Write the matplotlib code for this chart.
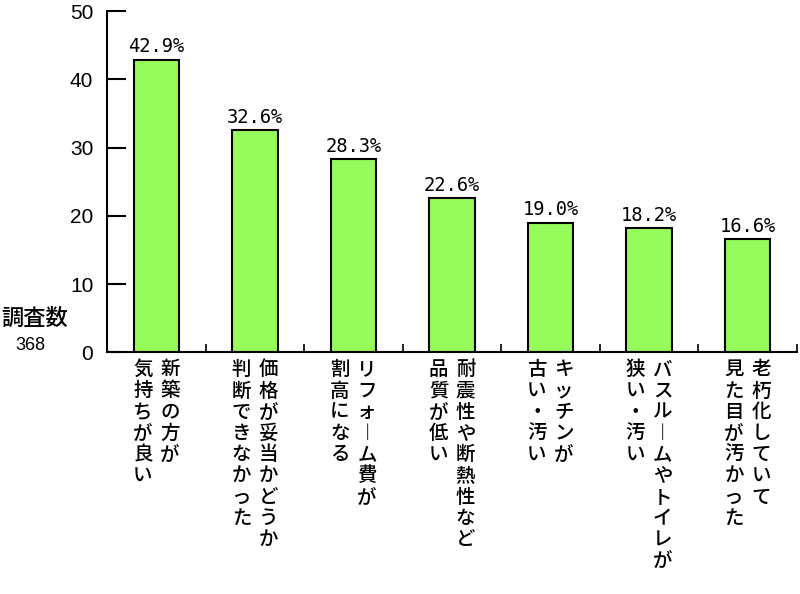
import matplotlib
matplotlib.use('Agg')
import matplotlib.pyplot as plt
import matplotlib.transforms as mtransforms

plt.rcParams['font.family'] = ['Noto Sans CJK JP', 'DejaVu Sans']

# data
labels = [
    ['新築の方が', '気持ちが良い'],
    ['価格が妥当かどうか', '判断できなかった'],
    ['リフォーム費が', '割高になる'],
    ['耐震性や断熱性など', '品質が低い'],
    ['キッチンが', '古い・汚い'],
    ['バスルームやトイレが', '狭い・汚い'],
    ['老朽化していて', '見た目が汚かった'],
]
values = [42.9, 32.6, 28.3, 22.6, 19.0, 18.2, 16.6]
yticks = [0, 10, 20, 30, 40, 50]

bar_color = '#96FC5C'

fig = plt.figure(figsize=(8, 5.94), dpi=100)
ax = fig.add_axes([0.134, 0.407, 0.862, 0.574])

pos = [i + 0.5 for i in range(len(values))]
ax.bar(pos, values, width=0.46, color=bar_color, edgecolor='black', linewidth=1.5)

for x, v in zip(pos, values):
    ax.text(x, v + 0.5, '%.1f%%' % v, ha='center', va='bottom', fontsize=13.5,
            family='DejaVu Sans Mono')

ax.set_xlim(0, len(values))
ax.set_ylim(0, 50)
ax.set_yticks(yticks)
ax.set_yticklabels([str(t) for t in yticks], fontsize=15, family='Liberation Sans')
ax.set_xticks(range(1, len(values) + 1))
ax.set_xticklabels([])
ax.tick_params(axis='y', direction='in', length=14, width=1.5, pad=10)
ax.tick_params(axis='x', direction='in', length=6, width=1.2)

for s in ['top', 'right']:
    ax.spines[s].set_visible(False)
for s in ['left', 'bottom']:
    ax.spines[s].set_linewidth(1.5)

# vertical category labels, first line on the right
trans = mtransforms.blended_transform_factory(ax.transData, ax.transAxes)
for x, lines in zip(pos, labels):
    n = len(lines)
    for j, line in enumerate(lines):
        col = line.replace('ー', '︱')
        off = ((n - 1) / 2.0 - j) * 27
        t = mtransforms.offset_copy(trans, fig=fig, x=off, y=-8, units='dots')
        ax.text(x, 0, '\n'.join(col), transform=t, ha='center', va='top',
                fontsize=14, linespacing=1.15, fontweight='medium')

fig.text(35 / 800, 1 - 318 / 594, '調査数', ha='center', va='center', fontsize=16,
         fontweight='medium')
fig.text(30 / 800, 1 - 346 / 594, '368', ha='center', va='center', fontsize=13,
         family='Liberation Sans')

fig.savefig('out.png', dpi=100, facecolor='white')
